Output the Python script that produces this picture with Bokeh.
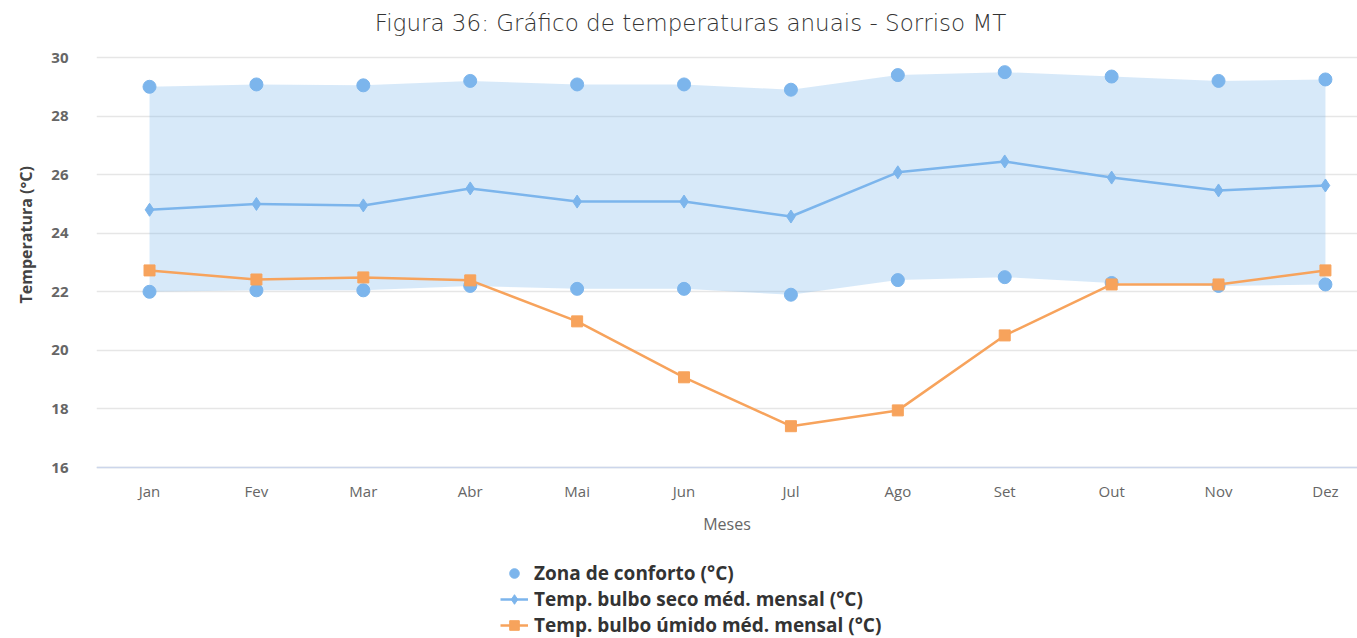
from bokeh.plotting import figure
from bokeh.models import Legend, LegendItem, FixedTicker, ColumnDataSource, Title, Label
from bokeh.embed import file_html
from bokeh.resources import INLINE

months = ["Jan", "Fev", "Mar", "Abr", "Mai", "Jun", "Jul", "Ago", "Set", "Out", "Nov", "Dez"]
conforto_sup = [29.0, 29.08, 29.05, 29.2, 29.08, 29.08, 28.9, 29.4, 29.5, 29.35, 29.2, 29.25]
conforto_inf = [22.0, 22.05, 22.05, 22.2, 22.1, 22.1, 21.9, 22.4, 22.5, 22.3, 22.2, 22.25]
bulbo_seco = [24.8, 25.0, 24.95, 25.53, 25.08, 25.08, 24.57, 26.08, 26.45, 25.9, 25.46, 25.63]
bulbo_umido = [22.73, 22.42, 22.49, 22.39, 20.99, 19.08, 17.41, 17.95, 20.51, 22.25, 22.25, 22.73]
y_ticks = [16, 18, 20, 22, 24, 26, 28, 30]
titulo = "Figura 36: Gráfico de temperaturas anuais - Sorriso MT"

xs = list(range(len(months)))
src = ColumnDataSource(dict(x=xs, sup=conforto_sup, inf=conforto_inf,
                            seco=bulbo_seco, umido=bulbo_umido))

BLUE = "#7cb5ec"
ORANGE = "#f7a35c"
FONT = "Open Sans"

W, H = 1357, 638
LEFT = 96
PX_PER_DEG = 410 / 14.0         # 16..30 spans 410 px
TOP_PX = 57                     # y = 30 sits 57 px below the top
Y_TOP = 30 + TOP_PX / PX_PER_DEG
Y_BOT = Y_TOP - H / PX_PER_DEG
X0, X1 = -0.496, 11.30

# the frame fills the whole height; the value range is extended above and
# below so that the title and the legend sit outside the 16..30 band
p = figure(width=W, height=H, output_backend="svg", toolbar_location=None,
           x_range=(X0, X1), y_range=(Y_BOT, Y_TOP),
           min_border_left=LEFT, min_border_right=0, min_border_top=0, min_border_bottom=0)
p.outline_line_color = None
p.background_fill_color = "white"

# title, centred at page x = 690, y = 22
px_per_cat = (W - LEFT) / (X1 - X0)
title_lbl = Label(x=X0 + (690 - LEFT) / px_per_cat, y=Y_TOP - 22 / PX_PER_DEG,
                  text=titulo, text_align="center", text_baseline="middle",
                  text_font="DejaVu Sans Light", text_font_size="23px",
                  text_color="#333333")
p.add_layout(title_lbl)

# comfort zone
p.varea(x="x", y1="inf", y2="sup", source=src, fill_color=BLUE, fill_alpha=0.3)
c1 = p.scatter(x="x", y="sup", source=src, marker="circle", size=13, color=BLUE)
c2 = p.scatter(x="x", y="inf", source=src, marker="circle", size=13, color=BLUE)

# dry bulb
l1 = p.line(x="x", y="seco", source=src, line_color=BLUE, line_width=2.5)
m1 = p.scatter(x="x", y="seco", source=src, marker="diamond", size=13, color=BLUE)

# wet bulb
l2 = p.line(x="x", y="umido", source=src, line_color=ORANGE, line_width=2.5)
m2 = p.scatter(x="x", y="umido", source=src, marker="square", size=11, color=ORANGE)

# x axis sits at y = 16
p.xaxis.fixed_location = 16
p.xaxis.ticker = FixedTicker(ticks=xs)
p.xaxis.major_label_overrides = {i: m for i, m in enumerate(months)}
p.xaxis.axis_line_color = "#ccd6eb"
p.xaxis.axis_line_width = 1.5
p.xaxis.major_tick_line_color = None
p.xaxis.minor_tick_line_color = None
p.xaxis.major_label_standoff = 7
p.xaxis.major_label_text_font = FONT
p.xaxis.major_label_text_font_size = "15px"
p.xaxis.major_label_text_color = "#666666"
p.xaxis.axis_label = "Meses"
p.xaxis.axis_label_text_font = FONT
p.xaxis.axis_label_text_font_size = "16px"
p.xaxis.axis_label_text_font_style = "normal"
p.xaxis.axis_label_text_color = "#666666"
p.xaxis.axis_label_standoff = 9

p.yaxis.ticker = FixedTicker(ticks=y_ticks)
p.yaxis.axis_line_color = None
p.yaxis.major_tick_line_color = None
p.yaxis.minor_tick_line_color = None
p.yaxis.major_label_standoff = 22
p.yaxis.major_label_text_font = FONT
p.yaxis.major_label_text_font_size = "15px"
p.yaxis.major_label_text_font_style = "bold"
p.yaxis.major_label_text_color = "#666666"

ytitle = Title(text="Temperatura (°C)", align="left", offset=335, standoff=24,
               text_font=FONT, text_font_size="16px", text_font_style="bold",
               text_color="#444444")
p.add_layout(ytitle, "left")

p.xgrid.grid_line_color = None
p.ygrid.grid_line_color = "#e6e6e6"
p.ygrid.grid_line_width = 1.5

legend = Legend(items=[
    LegendItem(label="Zona de conforto (°C)", renderers=[c1]),
    LegendItem(label="Temp. bulbo seco méd. mensal (°C)", renderers=[l1, m1]),
    LegendItem(label="Temp. bulbo úmido méd. mensal (°C)", renderers=[l2, m2]),
], orientation="vertical", location=(404, 0))
legend.border_line_color = None
legend.background_fill_alpha = 0
legend.label_text_font = FONT
legend.label_text_font_size = "19px"
legend.label_text_font_style = "bold"
legend.label_text_color = "#333333"
legend.label_standoff = 6
legend.spacing = 0
legend.label_height = 24
legend.glyph_height = 24
legend.glyph_width = 28
legend.padding = 0
legend.margin = 0
p.add_layout(legend, "center")

open("out.html", "w").write(file_html(p, INLINE))
